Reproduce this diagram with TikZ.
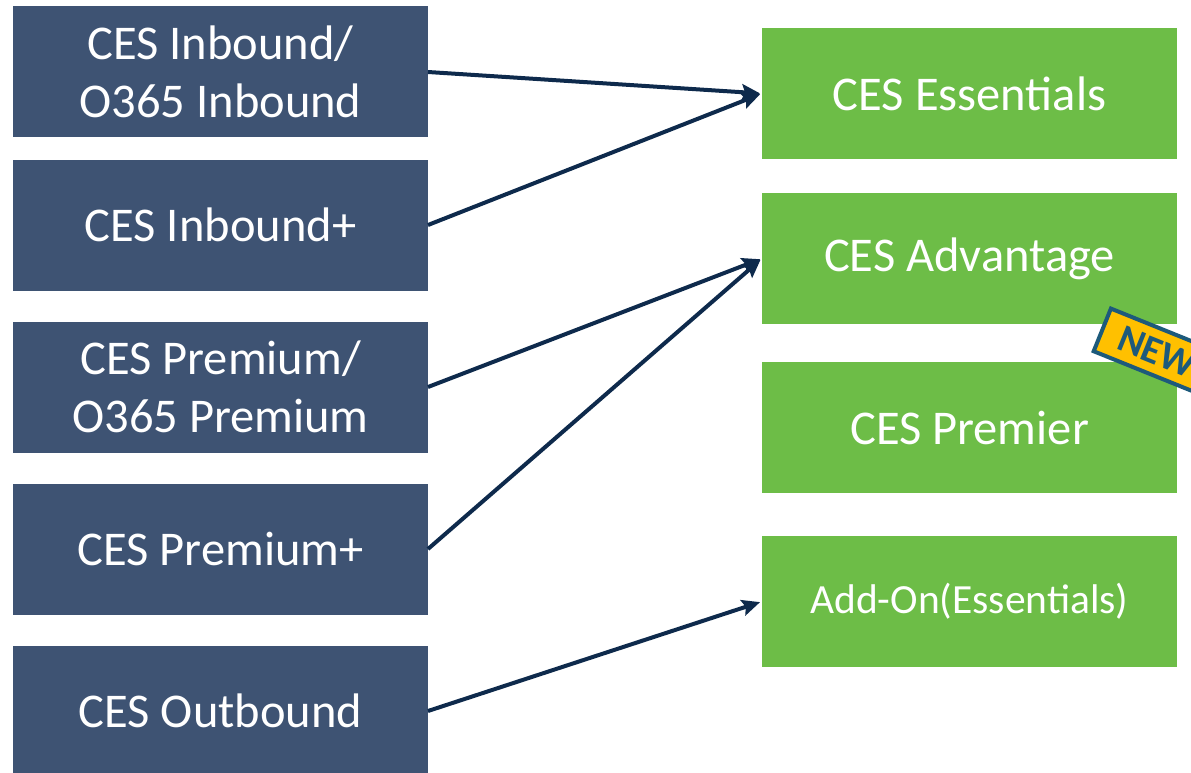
\documentclass[tikz,border=0pt]{standalone}
\usepackage{fontspec}
\setmainfont{Carlito}
\usetikzlibrary{positioning,arrows.meta}
\definecolor{oldblue}{HTML}{3E5373}
\definecolor{newgreen}{HTML}{6DBD47}
\definecolor{arrowblue}{HTML}{0E2A4C}
\definecolor{badgeyellow}{HTML}{FFC000}
\definecolor{badgeblue}{HTML}{1D5A7B}
\tikzset{
  oldplan/.style={fill=oldblue,text=white,minimum width=415pt,minimum height=131pt,inner sep=0pt,outer sep=0pt,align=center,font=\fontsize{48.5}{58}\selectfont},
  newplan/.style={fill=newgreen,text=white,minimum width=415pt,minimum height=131pt,inner sep=0pt,outer sep=0pt,align=center,font=\fontsize{48.5}{58}\selectfont},
  badge/.style={draw=badgeblue,line width=4pt,fill=badgeyellow,text=badgeblue,font=\fontsize{39}{40}\selectfont\bfseries,minimum width=118pt,minimum height=46pt,inner sep=0pt}
}
\begin{document}
\begin{tikzpicture}[x=1pt,y=1pt,shorten >=2pt,->,>={Stealth[length=18pt,width=16pt,inset=3pt]},line width=4pt,arrowblue]
\useasboundingbox (0,0) rectangle (1191,-773);
\node[oldplan] (inb) at (220.5,-72) {CES Inbound/\\O365 Inbound};
\node[oldplan] (inbp) [below=22pt of inb] {CES Inbound+};
\node[oldplan] (prem) [below=31pt of inbp] {CES Premium/\\O365 Premium};
\node[oldplan] (premp) [below=31pt of prem] {CES Premium+};
\node[oldplan] (outb) [below=31pt of premp] {CES Outbound};
\node[newplan] (ess) at (969.5,-93.5) {CES Essentials};
\node[newplan] (adv) [below=34pt of ess] {CES Advantage};
\node[newplan] (pmr) [below=38pt of adv] {CES Premier};
\node[newplan,font=\fontsize{41.5}{50}\selectfont] (addon) [below=43pt of pmr] {Add-On(Essentials)};
\node[badge,rotate=-22] (new) at (1157,-352) {NEW};

\path (inb.east) edge (ess.west)
(inbp.east) edge (ess.west)
(prem.east) edge (adv.west)
(premp.east) edge (adv.west)
(outb.east) edge (addon.west);
\end{tikzpicture}
\end{document}
